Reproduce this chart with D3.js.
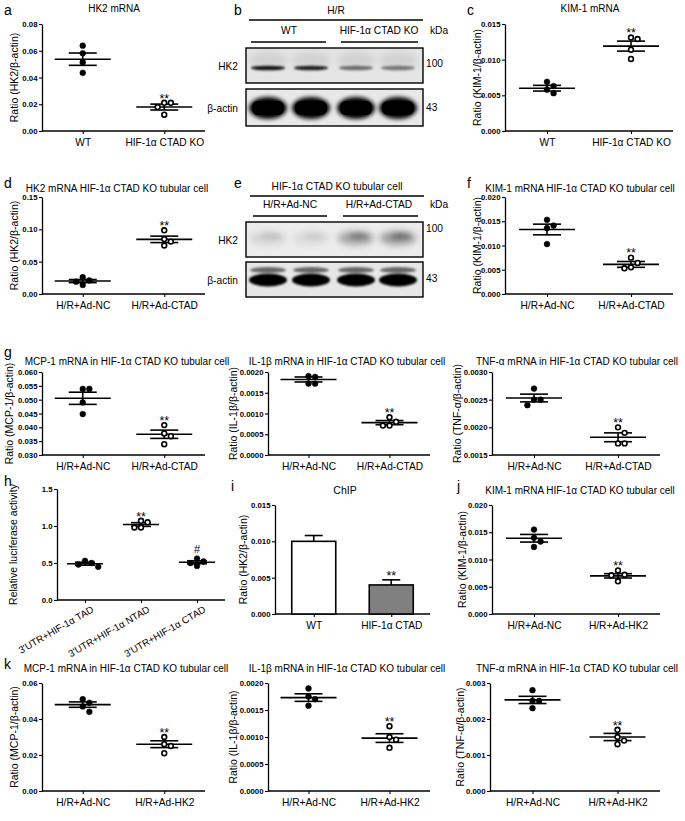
<!DOCTYPE html>
<html><head><meta charset="utf-8">
<script src="https://cdn.jsdelivr.net/npm/d3@7"></script>
<style>
body{margin:0;background:#fff}
text{font-family:"Liberation Sans",Arial,sans-serif;fill:#000}
</style>
</head><body>
<svg id="fig" width="685" height="821"></svg>
<script>
// ---------------- DATA ----------------
const catWTKO = ["WT", "HIF-1α CTAD KO"];
const catCTAD = ["H/R+Ad-NC", "H/R+Ad-CTAD"];
const catHK2  = ["H/R+Ad-NC", "H/R+Ad-HK2"];
const catH    = ["3'UTR+HIF-1α TAD", "3'UTR+HIF-1α NTAD", "3'UTR+HIF-1α CTAD"];
const catI    = ["WT", "HIF-1α CTAD"];

// panel a: HK2 mRNA
const aPts  = [[0.0638, 0.0581, 0.0514, 0.0435], [0.0211, 0.0211, 0.0179, 0.0122]];
const aMean = [0.0537, 0.0179];
const aSem  = [0.0046, 0.0022];
// panel c: KIM-1 mRNA
const cPts  = [[0.0069, 0.0063, 0.0058, 0.0053], [0.0131, 0.0129, 0.0114, 0.0101]];
const cMean = [0.0060, 0.0119];
const cSem  = [0.0004, 0.0007];
// panel d
const dPts  = [[0.026, 0.021, 0.019, 0.014], [0.0985, 0.085, 0.081, 0.075]];
const dMean = [0.020, 0.0845];
const dSem  = [0.0024, 0.005];
// panel f
const fPts  = [[0.0153, 0.0141, 0.0136, 0.0103], [0.0075, 0.0064, 0.0055, 0.0053]];
const fMean = [0.0133, 0.0061];
const fSem  = [0.0011, 0.0006];
// panel g (MCP-1, IL-1b, TNF-a)
const g1Pts  = [[0.0539, 0.0539, 0.0490, 0.0448], [0.0408, 0.0378, 0.0368, 0.0339]];
const g1Mean = [0.0505, 0.0375];
const g1Sem  = [0.0022, 0.0015];
const g2Pts  = [[0.00190, 0.00188, 0.00172, 0.00172], [0.00091, 0.00080, 0.00071, 0.00071]];
const g2Mean = [0.00182, 0.00078];
const g2Sem  = [0.00006, 0.00005];
const g3Pts  = [[0.0027, 0.0025, 0.0025, 0.0024], [0.0020, 0.0019, 0.00171, 0.00171]];
const g3Mean = [0.00253, 0.00182];
const g3Sem  = [0.00007, 0.00008];
// panel h: luciferase
const hPts  = [[0.53, 0.50, 0.48, 0.45], [1.07, 1.05, 0.98, 0.98], [0.56, 0.52, 0.50, 0.46]];
const hMean = [0.49, 1.02, 0.51];
const hSem  = [0.02, 0.025, 0.02];
// panel i: ChIP
const iMean = [0.0100, 0.0040];
const iSem  = [0.0008, 0.0007];
// panel j
const jPts  = [[0.0155, 0.0140, 0.0133, 0.0123], [0.0080, 0.0072, 0.0071, 0.0060]];
const jMean = [0.0139, 0.0070];
const jSem  = [0.0007, 0.0004];
// panel k
const k1Pts  = [[0.051, 0.049, 0.047, 0.044], [0.030, 0.026, 0.025, 0.021]];
const k1Mean = [0.048, 0.026];
const k1Sem  = [0.0015, 0.0019];
const k2Pts  = [[0.00190, 0.00175, 0.00170, 0.00158], [0.00120, 0.00100, 0.00095, 0.00080]];
const k2Mean = [0.00173, 0.00098];
const k2Sem  = [0.00007, 0.00008];
const k3Pts  = [[0.0028, 0.0025, 0.0025, 0.0023], [0.0017, 0.0015, 0.0014, 0.0013]];
const k3Mean = [0.00253, 0.0015];
const k3Sem  = [0.0001, 0.0001];

// western blot band intensities (relative)
const bHK2   = [0.9, 0.85, 0.5, 0.45];
const bActin = [1, 1, 1, 1];
const eHK2   = [0.13, 0.1, 0.4, 0.45];
const eActin = [1, 1, 1, 1];

// ---------------- DRAWING ----------------
const FONT = '"Liberation Sans",Arial,sans-serif';
const svg = d3.select("#fig");
const defs = svg.append("defs");
[["blur1",1.2],["blur2",2.2],["blur3",3.5]].forEach(([id,s])=>{
  defs.append("filter").attr("id",id).attr("x","-50%").attr("y","-100%").attr("width","200%").attr("height","300%")
    .append("feGaussianBlur").attr("stdDeviation",s);
});

function letter(t,x,y){ svg.append("text").attr("x",x).attr("y",y).attr("font-size",14).text(t); }
function txt(t,x,y,size,anchor){ return svg.append("text").attr("x",x).attr("y",y).attr("font-size",size).attr("text-anchor",anchor||"middle").text(t); }

function styleAxis(g){
  g.selectAll(".domain").attr("stroke","#000").attr("stroke-width",1.3);
  g.selectAll(".tick line").attr("stroke","#000").attr("stroke-width",1.1);
  g.selectAll("text").attr("fill","#000");
}

function yAxis(o, y){
  const ticks = d3.range(o.domain[0], o.domain[1] + o.step/2, o.step);
  const g = svg.append("g").attr("transform",`translate(${o.x0},0)`)
    .call(d3.axisLeft(y).tickValues(ticks).tickFormat(d3.format(o.fmt)).tickSize(3).tickSizeOuter(0).tickPadding(1.5));
  styleAxis(g);
  g.selectAll("text").attr("font-size",7.8).attr("font-weight","bold").attr("font-family",FONT);
  svg.append("text").attr("transform",`translate(${o.ylabelX},${(o.yTop+o.yBot)/2}) rotate(-90)`)
    .attr("text-anchor","middle").attr("font-size",10.5).text(o.ylabel);
}

function xAxis(o, x, rotate){
  const g = svg.append("g").attr("transform",`translate(0,${o.yBot})`)
    .call(d3.axisBottom(x).tickSize(3).tickSizeOuter(0).tickPadding(5));
  styleAxis(g);
  g.select(".domain").attr("d",`M${o.x0},0H${o.x1}`);
  g.selectAll("text").attr("font-size",10.2).attr("font-family",FONT);
  if(rotate){
    g.selectAll("text").attr("font-size",9.8).attr("text-anchor","end").attr("y",11).attr("x",2).attr("dy","0.35em")
      .attr("transform","rotate(-30)");
  }
}

function dodge(vals, y, cx, r){
  const placed = [];
  const step = 2*r + 0.8;
  return vals.map(v=>{
    const py = y(v);
    let off = 0;
    const seq = [0,1,-1,2,-2,3,-3];
    for(const s of seq){
      off = s*step;
      if(placed.every(p => Math.hypot(p[0]-(cx+off), p[1]-py) >= 2*r + 0.4)) break;
    }
    placed.push([cx+off, py]);
    return [cx+off, py];
  });
}

function scatterPanel(o){
  const y = d3.scaleLinear().domain(o.domain).range([o.yBot, o.yTop]);
  const x = d3.scalePoint().domain(o.cats).range([o.x0, o.x1]).padding(0.5);
  yAxis(o, y);
  xAxis(o, x, o.rotate);
  const r = 2.9;
  const mw = o.meanW || 28, sw = o.semW || 14;
  o.cats.forEach((c,i)=>{
    const cx = x(c);
    const m = o.mean[i], s = o.sem[i];
    const g = svg.append("g").attr("stroke","#000").attr("stroke-width",1.6);
    g.append("line").attr("x1",cx-mw).attr("x2",cx+mw).attr("y1",y(m)).attr("y2",y(m));
    g.append("line").attr("x1",cx-sw).attr("x2",cx+sw).attr("y1",y(m+s)).attr("y2",y(m+s));
    g.append("line").attr("x1",cx-sw).attr("x2",cx+sw).attr("y1",y(m-s)).attr("y2",y(m-s));
    g.append("line").attr("x1",cx).attr("x2",cx).attr("y1",y(m+s)).attr("y2",y(m-s));
    const open = o.open ? o.open[i] : (i>0);
    const pos = dodge(o.pts[i], y, cx, r);
    svg.append("g").selectAll("circle").data(pos).join("circle")
      .attr("cx",d=>d[0]).attr("cy",d=>d[1]).attr("r", open? r-0.5 : r)
      .attr("fill", open? "#fff":"#000").attr("stroke","#000").attr("stroke-width", open?1.6:0.5);
    const sig = o.sig ? o.sig[i] : (i>0 ? "**" : null);
    if(sig){
      const top = Math.min(y(d3.max(o.pts[i])), y(m+s));
      svg.append("text").attr("x",cx).attr("y", top - (sig==="#"?6:4)).attr("text-anchor","middle")
        .attr("font-size", sig==="#"?11:12.5).text(sig).attr("dy", sig==="**"?"0.3em":0);
    }
  });
  if(o.title) txt(o.title, o.titleX, o.titleY, 10);
}

function barPanel(o){
  const y = d3.scaleLinear().domain(o.domain).range([o.yBot, o.yTop]);
  const x = d3.scalePoint().domain(o.cats).range([o.x0, o.x1]).padding(0.5);
  yAxis(o, y);
  xAxis(o, x);
  const bw = 44;
  o.cats.forEach((c,i)=>{
    const cx = x(c), m = o.mean[i], s = o.sem[i];
    const g = svg.append("g").attr("stroke","#000").attr("stroke-width",1.6);
    g.append("line").attr("x1",cx).attr("x2",cx).attr("y1",y(m)).attr("y2",y(m+s));
    g.append("line").attr("x1",cx-9).attr("x2",cx+9).attr("y1",y(m+s)).attr("y2",y(m+s));
    g.append("rect").attr("x",cx-bw/2).attr("y",y(m)).attr("width",bw).attr("height",y(0)-y(m))
      .attr("fill", o.fills[i]);
    if(i>0) svg.append("text").attr("x",cx).attr("y",y(m+s)-4).attr("dy","0.3em").attr("text-anchor","middle")
      .attr("font-size",12.5).text("**");
  });
  txt(o.title, o.titleX, o.titleY, 10.5);
}

function blot(o){
  const lanes = o.lanes;
  svg.append("line").attr("x1",o.hx0).attr("x2",o.hx1).attr("y1",o.hLineY).attr("y2",o.hLineY).attr("stroke","#000").attr("stroke-width",1.3);
  txt(o.header, (o.hx0+o.hx1)/2, o.hLineY-6, 10.2);
  txt(o.g1, o.g1x, o.subY, 10.2); txt(o.g2, o.g2x, o.subY, 10.2);
  txt("kDa", o.kdaX, o.subY, 10.2, "start");
  o.underlines.forEach(u=> svg.append("line").attr("x1",u[0]).attr("x2",u[1]).attr("y1",o.subY+8).attr("y2",o.subY+8).attr("stroke","#000").attr("stroke-width",1.3));
  o.boxes.forEach(bx=>{
    const gb = svg.append("g");
    const clipId = "clip"+Math.round(bx.y0);
    defs.append("clipPath").attr("id",clipId).append("rect").attr("x",o.bx0).attr("y",bx.y0).attr("width",o.bx1-o.bx0).attr("height",bx.y1-bx.y0);
    const inner = gb.append("g").attr("clip-path",`url(#${clipId})`);
    inner.append("rect").attr("x",o.bx0).attr("y",bx.y0).attr("width",o.bx1-o.bx0).attr("height",bx.y1-bx.y0).attr("fill",bx.bg);
    bx.vals.forEach((v,i)=> bx.draw(inner, lanes[i], v));
    gb.append("rect").attr("x",o.bx0).attr("y",bx.y0).attr("width",o.bx1-o.bx0).attr("height",bx.y1-bx.y0)
      .attr("fill","none").attr("stroke","#000").attr("stroke-width",1.4);
    txt(bx.label, o.bx0-8, (bx.y0+bx.y1)/2+4, 10.2, "end");
    txt(bx.kda, o.kdaX-4, bx.kdaY, 10.2, "start");
  });
}

// ---- panel letters
letter("a",4,15); letter("b",234,15); letter("c",467,15);
letter("d",4,188); letter("e",234,188); letter("f",467,188);
letter("g",4,357); letter("h",4,486); letter("i",231,491); letter("j",457,491); letter("k",4,669);

// ---- a
scatterPanel({x0:42,x1:205,yTop:24,yBot:131,domain:[0,0.08],step:0.02,fmt:".2f",cats:catWTKO,
  pts:aPts,mean:aMean,sem:aSem,title:"HK2 mRNA",titleX:114,titleY:12,ylabel:"Ratio (HK2/β-actin)",ylabelX:18});
// ---- c
scatterPanel({x0:505,x1:673,yTop:24,yBot:131,domain:[0,0.015],step:0.005,fmt:".3f",cats:catWTKO,
  pts:cPts,mean:cMean,sem:cSem,title:"KIM-1 mRNA",titleX:590,titleY:12,ylabel:"Ratio (KIM-1/β-actin)",ylabelX:481});
// ---- d
scatterPanel({x0:42,x1:205,yTop:197,yBot:294,domain:[0,0.15],step:0.05,fmt:".2f",cats:catCTAD,
  pts:dPts,mean:dMean,sem:dSem,title:"HK2 mRNA HIF-1α CTAD KO tubular cell",titleX:117,titleY:192,ylabel:"Ratio (HK2/β-actin)",ylabelX:18});
// ---- f
scatterPanel({x0:505,x1:673,yTop:197,yBot:294,domain:[0,0.02],step:0.005,fmt:".3f",cats:catCTAD,
  pts:fPts,mean:fMean,sem:fSem,title:"KIM-1 mRNA HIF-1α CTAD KO tubular cell",titleX:580,titleY:192,ylabel:"Ratio (KIM-1/β-actin)",ylabelX:481});
// ---- g
scatterPanel({x0:42,x1:205,yTop:372,yBot:455,domain:[0.03,0.06],step:0.005,fmt:".3f",cats:catCTAD,
  pts:g1Pts,mean:g1Mean,sem:g1Sem,title:"MCP-1 mRNA in HIF-1α CTAD KO tubular cell",titleX:127,titleY:365,ylabel:"Ratio (MCP-1/β-actin)",ylabelX:13});
scatterPanel({x0:268,x1:430,yTop:372,yBot:455,domain:[0,0.002],step:0.0005,fmt:".4f",cats:catCTAD,
  pts:g2Pts,mean:g2Mean,sem:g2Sem,title:"IL-1β mRNA in HIF-1α CTAD KO tubular cell",titleX:347,titleY:365,ylabel:"Ratio (IL-1β/β-actin)",ylabelX:237});
scatterPanel({x0:492,x1:660,yTop:372,yBot:455,domain:[0.0015,0.003],step:0.0005,fmt:".4f",cats:catCTAD,
  pts:g3Pts,mean:g3Mean,sem:g3Sem,title:"TNF-α mRNA in HIF-1α CTAD KO tubular cell",titleX:577,titleY:365,ylabel:"Ratio (TNF-α/β-actin)",ylabelX:461});
// ---- h
scatterPanel({x0:57,x1:225,yTop:489,yBot:600,domain:[0,1.5],step:0.5,fmt:".1f",cats:catH,rotate:true,
  pts:hPts,mean:hMean,sem:hSem,open:[false,true,false],sig:[null,"**","#"],meanW:18,semW:10,
  ylabel:"Relative luciferase activity",ylabelX:17});
// ---- i
barPanel({x0:275,x1:430,yTop:505,yBot:614,domain:[0,0.015],step:0.005,fmt:".3f",cats:catI,
  mean:iMean,sem:iSem,fills:["#fff","#808080"],title:"ChIP",titleX:345,titleY:494,ylabel:"Ratio (HK2/β-actin)",ylabelX:247});
// ---- j
scatterPanel({x0:492,x1:660,yTop:505,yBot:614,domain:[0,0.02],step:0.005,fmt:".3f",cats:catHK2,
  pts:jPts,mean:jMean,sem:jSem,title:"KIM-1 mRNA HIF-1α CTAD KO tubular cell",titleX:580,titleY:494,ylabel:"Ratio (KIM-1/β-actin)",ylabelX:466});
// ---- k
scatterPanel({x0:42,x1:205,yTop:683,yBot:791,domain:[0,0.06],step:0.02,fmt:".2f",cats:catHK2,
  pts:k1Pts,mean:k1Mean,sem:k1Sem,title:"MCP-1 mRNA in HIF-1α CTAD KO tubular cell",titleX:126,titleY:672,ylabel:"Ratio (MCP-1/β-actin)",ylabelX:18});
scatterPanel({x0:268,x1:430,yTop:683,yBot:791,domain:[0,0.002],step:0.0005,fmt:".4f",cats:catHK2,
  pts:k2Pts,mean:k2Mean,sem:k2Sem,title:"IL-1β mRNA in HIF-1α CTAD KO tubular cell",titleX:347,titleY:672,ylabel:"Ratio (IL-1β/β-actin)",ylabelX:237});
scatterPanel({x0:490,x1:660,yTop:683,yBot:791,domain:[0,0.003],step:0.001,fmt:".3f",cats:catHK2,
  pts:k3Pts,mean:k3Mean,sem:k3Sem,title:"TNF-α mRNA in HIF-1α CTAD KO tubular cell",titleX:577,titleY:672,ylabel:"Ratio (TNF-α/β-actin)",ylabelX:464});

// ---- blots
const lanes = [268, 311, 356, 398];
blot({lanes, header:"H/R", hx0:249, hx1:423, hLineY:20, g1:"WT", g1x:289, g2:"HIF-1α CTAD KO", g2x:379, subY:34,
  kdaX:430, underlines:[[251,326],[341,418]], bx0:246, bx1:423,
  boxes:[
    {y0:48,y1:83,bg:"#e4e4e4",label:"HK2",kda:"100",kdaY:67,vals:bHK2,
     draw:(g,cx,v)=>{
       g.append("ellipse").attr("cx",cx).attr("cy",60).attr("rx",19).attr("ry",8).attr("fill","#000").attr("opacity",0.08).attr("filter","url(#blur3)");
       g.append("ellipse").attr("cx",cx).attr("cy",68).attr("rx",17).attr("ry",2.3).attr("fill","#000").attr("opacity",v).attr("filter","url(#blur1)");
     }},
    {y0:89,y1:126,bg:"#e8e8e8",label:"β-actin",kda:"43",kdaY:111,vals:bActin,
     draw:(g,cx,v)=>{
       g.append("ellipse").attr("cx",cx).attr("cy",108).attr("rx",19).attr("ry",11).attr("fill","#000").attr("opacity",v).attr("filter","url(#blur2)");
       g.append("rect").attr("x",cx-16).attr("y",101).attr("width",32).attr("height",14).attr("rx",6).attr("fill","#000").attr("opacity",v);
     }}
  ]});
blot({lanes, header:"HIF-1α CTAD KO tubular cell", hx0:250, hx1:424, hLineY:196, g1:"H/R+Ad-NC", g1x:290, g2:"H/R+Ad-CTAD", g2x:379, subY:208,
  kdaX:430, underlines:[[253,327],[343,418]], bx0:246, bx1:423,
  boxes:[
    {y0:222,y1:257,bg:"#ececec",label:"HK2",kda:"100",kdaY:232,vals:eHK2,
     draw:(g,cx,v)=>{
       g.append("ellipse").attr("cx",cx).attr("cy",238).attr("rx",18).attr("ry",7).attr("fill","#000").attr("opacity",v*0.8).attr("filter","url(#blur3)");
       g.append("ellipse").attr("cx",cx+3).attr("cy",236).attr("rx",10).attr("ry",3).attr("fill","#000").attr("opacity",v*0.6).attr("filter","url(#blur2)");
     }},
    {y0:262,y1:297,bg:"#e6e6e6",label:"β-actin",kda:"43",kdaY:282,vals:eActin,
     draw:(g,cx,v)=>{
       g.append("ellipse").attr("cx",cx).attr("cy",270).attr("rx",18).attr("ry",3).attr("fill","#000").attr("opacity",0.55*v).attr("filter","url(#blur1)");
       g.append("ellipse").attr("cx",cx).attr("cy",280).attr("rx",19).attr("ry",6.5).attr("fill","#000").attr("opacity",v).attr("filter","url(#blur1)");
     }}
  ]});
</script>
</body></html>
